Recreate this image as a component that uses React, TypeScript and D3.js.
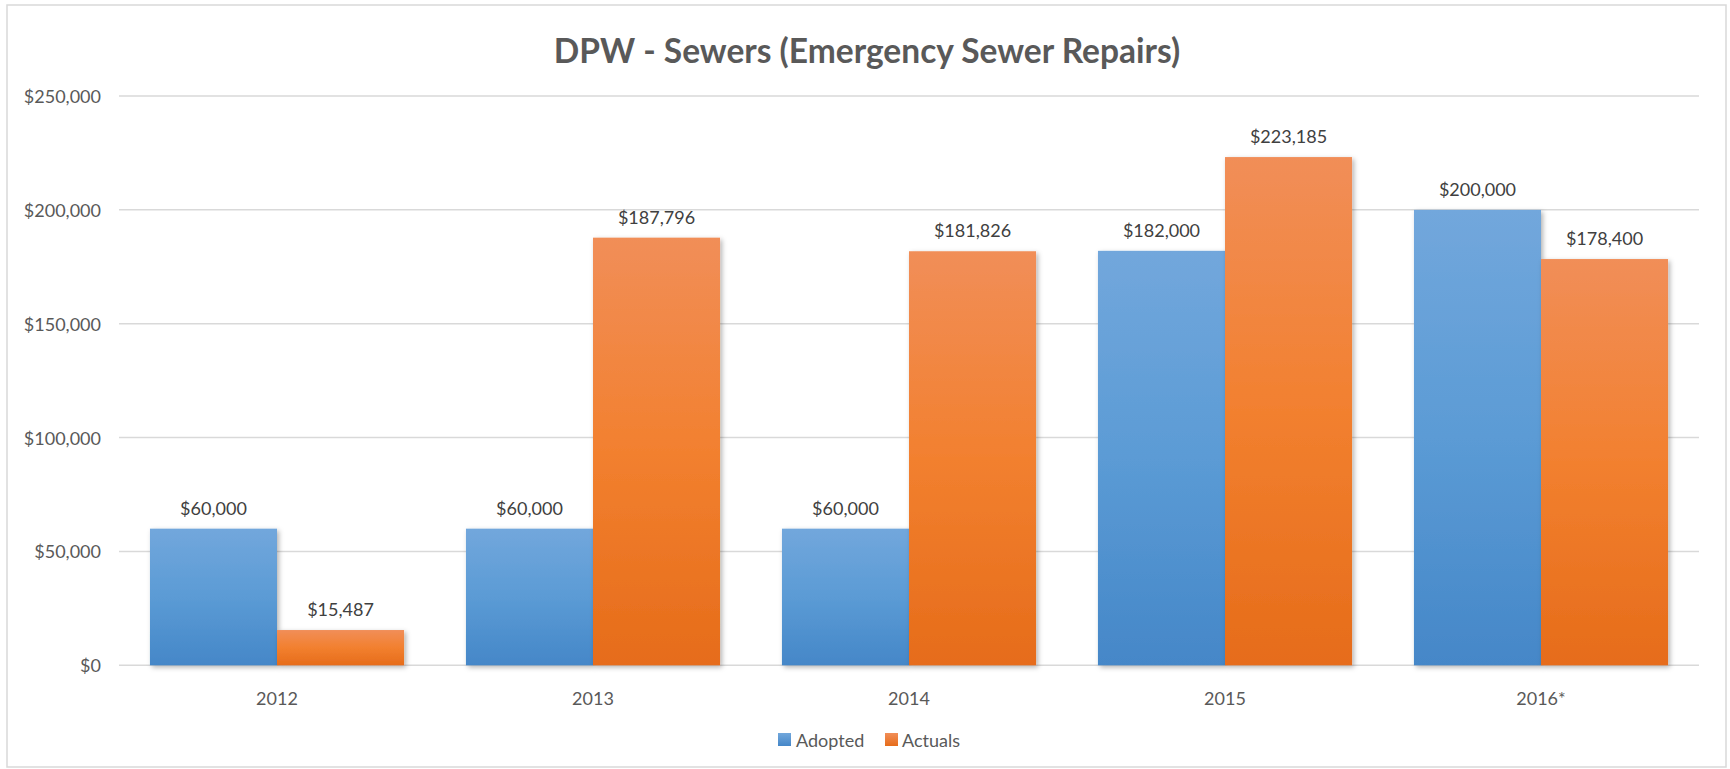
import React from "react";
import * as d3 from "d3";

const categories = ["2012", "2013", "2014", "2015", "2016*"];
const seriesNames = ["Adopted", "Actuals"];
const adopted = [60000, 60000, 60000, 182000, 200000];
const actuals = [15487, 187796, 181826, 223185, 178400];
const yTicks = [0, 50000, 100000, 150000, 200000, 250000];
const title = "DPW - Sewers (Emergency Sewer Repairs)";

const W = 1730;
const H = 769;
const FONT = "Lato, 'Open Sans', sans-serif";
const TXT = "#595959";

export default function App() {
  const x0 = d3
    .scaleBand<string>()
    .domain(categories)
    .range([119, 1699])
    .paddingInner(0.196)
    .paddingOuter(0.098);
  const x1 = d3.scaleBand<string>().domain(seriesNames).range([0, x0.bandwidth()]);
  const y = d3.scaleLinear().domain([0, 250000]).range([665.3, 96]);
  const fmt = (v: number) => "$" + d3.format(",")(v);
  const series = [
    { name: "Adopted", values: adopted, grad: "gBlue" },
    { name: "Actuals", values: actuals, grad: "gOrange" },
  ];
  const legendItems = [
    { name: "Adopted", sx: 778, tx: 796, fill: "url(#lBlue)" },
    { name: "Actuals", sx: 885, tx: 902, fill: "url(#lOrange)" },
  ];
  return (
    <svg
      width={W}
      height={H}
      style={{ position: "absolute", left: 0, top: 0, display: "block" }}
      fontFamily={FONT}
    >
      <defs>
        <linearGradient id="gBlue" x1="0" y1="0" x2="0" y2="1">
          <stop offset="0" stopColor="#72A7DC" />
          <stop offset="0.5" stopColor="#5B9BD5" />
          <stop offset="1" stopColor="#4587C8" />
        </linearGradient>
        <linearGradient id="gOrange" x1="0" y1="0" x2="0" y2="1">
          <stop offset="0" stopColor="#F18E58" />
          <stop offset="0.5" stopColor="#F2802F" />
          <stop offset="1" stopColor="#E66C1A" />
        </linearGradient>
        <linearGradient id="lBlue" x1="0" y1="0" x2="0" y2="1">
          <stop offset="0" stopColor="#72A7DC" />
          <stop offset="1" stopColor="#4587C8" />
        </linearGradient>
        <linearGradient id="lOrange" x1="0" y1="0" x2="0" y2="1">
          <stop offset="0" stopColor="#F18E58" />
          <stop offset="1" stopColor="#E66C1A" />
        </linearGradient>
        <filter id="shadow" x="-10%" y="-10%" width="130%" height="130%">
          <feDropShadow dx="2" dy="2" stdDeviation="2.5" floodColor="#000" floodOpacity="0.3" />
        </filter>
      </defs>
      <rect x={0} y={0} width={W} height={H} fill="#fff" />
      <rect x={7} y={5} width={1719} height={762} fill="#fff" stroke="#D9D9D9" strokeWidth={1.5} />
      <text
        x={867}
        y={50}
        textAnchor="middle"
        dominantBaseline="central"
        fontSize={33.5}
        fontWeight="bold"
        fill={TXT}
      >
        {title}
      </text>
      {yTicks.map((t) => (
        <g key={t}>
          <line x1={119} x2={1699} y1={y(t)} y2={y(t)} stroke="#D9D9D9" strokeWidth={1.5} />
          <text
            x={101}
            y={y(t)}
            textAnchor="end"
            dominantBaseline="central"
            fontSize={18}
            fill={TXT}
          >
            {fmt(t)}
          </text>
        </g>
      ))}
      {series.map((s) => (
        <g key={s.name}>
          {categories.map((c, i) => {
            const bx = (x0(c) as number) + (x1(s.name) as number);
            const bw = x1.bandwidth();
            const top = y(s.values[i]);
            return (
              <rect
                key={c}
                x={bx}
                y={top}
                width={bw}
                height={y(0) - top}
                fill={`url(#${s.grad})`}
                filter="url(#shadow)"
              />
            );
          })}
        </g>
      ))}
      {series.map((s) => (
        <g key={s.name + "lbl"}>
          {categories.map((c, i) => {
            const cx = (x0(c) as number) + (x1(s.name) as number) + x1.bandwidth() / 2;
            return (
              <text
                key={c}
                x={cx}
                y={y(s.values[i]) - 21}
                textAnchor="middle"
                dominantBaseline="central"
                fontSize={18}
                fill="#404040"
              >
                {fmt(s.values[i])}
              </text>
            );
          })}
        </g>
      ))}
      {categories.map((c) => (
        <text
          key={c}
          x={(x0(c) as number) + x0.bandwidth() / 2}
          y={698}
          textAnchor="middle"
          dominantBaseline="central"
          fontSize={18}
          fill={TXT}
        >
          {c}
        </text>
      ))}
      {legendItems.map((l) => (
        <g key={l.name}>
          <rect x={l.sx} y={733} width={13} height={13} fill={l.fill} />
          <text x={l.tx} y={739.5} dominantBaseline="central" fontSize={18} fill={TXT}>
            {l.name}
          </text>
        </g>
      ))}
    </svg>
  );
}
